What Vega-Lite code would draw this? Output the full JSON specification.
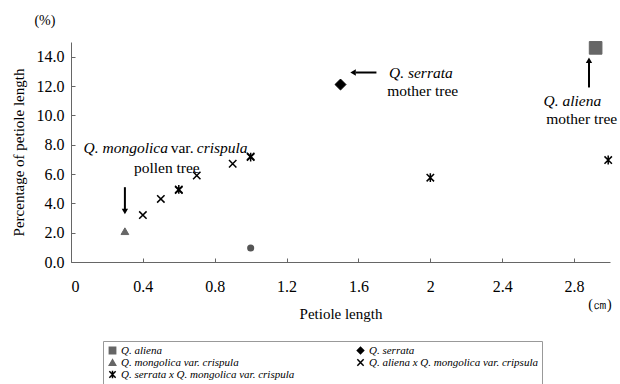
{
  "$schema": "https://vega.github.io/schema/vega-lite/v6.json",
  "width": 539,
  "height": 220,
  "autosize": "none",
  "padding": {"left": 71, "top": 42, "right": 10, "bottom": 122},
  "background": "white",
  "config": {
    "view": {"stroke": null},
    "font": "Times New Roman, Liberation Serif, DejaVu Serif, serif",
    "axis": {
      "grid": false,
      "domainColor": "#666666",
      "tickColor": "#666666",
      "labelColor": "#000000",
      "titleColor": "#000000",
      "labelFont": "Times New Roman, Liberation Serif, DejaVu Serif, serif",
      "titleFont": "Times New Roman, Liberation Serif, DejaVu Serif, serif",
      "labelFontSize": 16,
      "titleFontSize": 15,
      "titleFontWeight": "normal"
    }
  },
  "datasets": {
    "points": [
      {"series": "Q. aliena", "length": 2.92, "pct": 14.6},
      {"series": "Q. serrata", "length": 1.5, "pct": 12.1},
      {"series": "Q. mongolica var. crispula", "length": 0.3, "pct": 2.1},
      {"series": "Q. aliena x Q. mongolica var. cripsula", "length": 0.4, "pct": 3.2},
      {"series": "Q. aliena x Q. mongolica var. cripsula", "length": 0.5, "pct": 4.3},
      {"series": "Q. aliena x Q. mongolica var. cripsula", "length": 0.6, "pct": 4.9},
      {"series": "Q. aliena x Q. mongolica var. cripsula", "length": 0.7, "pct": 5.9},
      {"series": "Q. aliena x Q. mongolica var. cripsula", "length": 0.9, "pct": 6.7},
      {"series": "Q. aliena x Q. mongolica var. cripsula", "length": 1.0, "pct": 7.2},
      {"series": "Q. serrata x Q. mongolica var. crispula", "length": 0.6, "pct": 4.95},
      {"series": "Q. serrata x Q. mongolica var. crispula", "length": 1.0, "pct": 7.15},
      {"series": "Q. serrata x Q. mongolica var. crispula", "length": 2.0, "pct": 5.75},
      {"series": "Q. serrata x Q. mongolica var. crispula", "length": 2.99, "pct": 6.95}
    ],
    "other": [{"length": 1.0, "pct": 0.95}],
    "italicText": [
      {"length": 0.07, "pct": 7.75, "text": "Q. mongolica"},
      {"length": 0.7, "pct": 7.75, "text": "crispula"},
      {"length": 1.77, "pct": 12.92, "text": "Q. serrata"},
      {"length": 2.63, "pct": 10.95, "text": "Q. aliena"}
    ],
    "plainText": [
      {"length": 0.555, "pct": 7.75, "text": "var."},
      {"length": 0.35, "pct": 6.39, "text": "pollen tree"},
      {"length": 1.76, "pct": 11.69, "text": "mother tree"},
      {"length": 2.645, "pct": 9.72, "text": "mother tree"}
    ],
    "units": [
      {"length": -0.145, "pct": 16.45, "text": "(%)"},
      {"length": 2.944, "pct": -2.92, "text": "(㎝)"}
    ],
    "arrows": [
      {"dir": "down", "length": 0.3, "pct": 5.1, "length2": 0.3, "pct2": 3.6},
      {"dir": "left", "length": 1.70, "pct": 12.92, "length2": 1.585, "pct2": 12.92},
      {"dir": "up", "length": 2.883, "pct": 11.9, "length2": 2.883, "pct2": 13.6}
    ],
    "heads": [
      {"dir": "down", "length": 0.3, "pct": 3.45},
      {"dir": "left", "length": 1.57, "pct": 12.92},
      {"dir": "up", "length": 2.883, "pct": 13.75}
    ]
  },
  "encoding": {
    "x": {
      "field": "length", "type": "quantitative",
      "scale": {"domain": [0, 3], "nice": false, "zero": false},
      "axis": {
        "title": "Petiole length",
        "values": [0, 0.4, 0.8, 1.2, 1.6, 2, 2.4, 2.8],
        "format": "~g",
        "tickSize": -4,
        "labelPadding": 20,
        "titlePadding": 12
      }
    },
    "y": {
      "field": "pct", "type": "quantitative",
      "scale": {"domain": [0, 15], "nice": false, "zero": false},
      "axis": {
        "title": "Percentage of petiole length",
        "values": [0, 2, 4, 6, 8, 10, 12, 14],
        "format": ".1f",
        "tickSize": -4,
        "labelPadding": 11,
        "titlePadding": 10
      }
    }
  },
  "layer": [
    {
      "data": {"name": "points"},
      "encoding": {
        "shape": {
          "field": "series", "type": "nominal",
          "scale": {
            "domain": ["Q. aliena", "Q. serrata", "Q. mongolica var. crispula", "Q. aliena x Q. mongolica var. cripsula", "Q. serrata x Q. mongolica var. crispula"],
            "range": ["square", "diamond", "triangle-up", "M-1,-1L1,1M1,-1L-1,1", "M-1,-1L1,1M1,-1L-1,1M0,-1.2L0,1.2"]
          },
          "legend": {
            "title": null,
            "orient": "none",
            "legendX": 32,
            "legendY": 299,
            "columns": 2,
            "direction": "horizontal",
            "labelFont": "Times New Roman, Liberation Serif, DejaVu Serif, serif",
            "labelFontStyle": "italic",
            "labelFontSize": 11,
            "labelColor": "#000000",
            "labelLimit": 400,
            "symbolSize": 40,
            "symbolStrokeWidth": 1.5,
            "clipHeight": 11,
            "rowPadding": 0,
            "columnPadding": 60,
            "labelOffset": 3,
            "padding": 4,
            "strokeColor": "#999999",
            "fillColor": "white"
          }
        },
        "fill": {
          "field": "series", "type": "nominal",
          "scale": {
            "domain": ["Q. aliena", "Q. serrata", "Q. mongolica var. crispula", "Q. aliena x Q. mongolica var. cripsula", "Q. serrata x Q. mongolica var. crispula"],
            "range": ["#666666", "#000000", "#666666", "transparent", "transparent"]
          }
        },
        "stroke": {
          "field": "series", "type": "nominal",
          "scale": {
            "domain": ["Q. aliena", "Q. serrata", "Q. mongolica var. crispula", "Q. aliena x Q. mongolica var. cripsula", "Q. serrata x Q. mongolica var. crispula"],
            "range": ["#666666", "#000000", "#666666", "#000000", "#000000"]
          }
        }
      },
      "layer": [
        {"transform": [{"filter": "datum.series === 'Q. aliena'"}], "mark": {"type": "point", "filled": true, "size": 160, "strokeWidth": 1, "opacity": 1}},
        {"transform": [{"filter": "datum.series === 'Q. serrata'"}], "mark": {"type": "point", "filled": true, "size": 120, "strokeWidth": 1, "opacity": 1}},
        {"transform": [{"filter": "datum.series === 'Q. mongolica var. crispula'"}], "mark": {"type": "point", "filled": true, "size": 60, "strokeWidth": 1, "opacity": 1}},
        {"transform": [{"filter": "indexof(datum.series, ' x ') >= 0"}], "mark": {"type": "point", "size": 55, "strokeWidth": 1.5, "opacity": 1}}
      ]
    },
    {
      "data": {"name": "other"},
      "mark": {"type": "point", "shape": "circle", "filled": true, "color": "#555555", "size": 50, "opacity": 1}
    },
    {
      "data": {"name": "arrows"},
      "mark": {"type": "rule", "color": "#000000", "strokeWidth": 2},
      "encoding": {"x2": {"field": "length2"}, "y2": {"field": "pct2"}}
    },
    {
      "data": {"name": "heads"},
      "transform": [{"filter": "datum.dir === 'down'"}],
      "mark": {"type": "point", "shape": "triangle-down", "filled": true, "color": "#000000", "size": 40, "opacity": 1}
    },
    {
      "data": {"name": "heads"},
      "transform": [{"filter": "datum.dir === 'left'"}],
      "mark": {"type": "point", "shape": "triangle-left", "filled": true, "color": "#000000", "size": 40, "opacity": 1}
    },
    {
      "data": {"name": "heads"},
      "transform": [{"filter": "datum.dir === 'up'"}],
      "mark": {"type": "point", "shape": "triangle-up", "filled": true, "color": "#000000", "size": 40, "opacity": 1}
    },
    {
      "data": {"name": "italicText"},
      "mark": {"type": "text", "align": "left", "baseline": "middle", "font": "Times New Roman, Liberation Serif, DejaVu Serif, serif", "fontStyle": "italic", "fontSize": 15.5, "color": "#000000"},
      "encoding": {"text": {"field": "text"}}
    },
    {
      "data": {"name": "plainText"},
      "mark": {"type": "text", "align": "left", "baseline": "middle", "font": "Times New Roman, Liberation Serif, DejaVu Serif, serif", "fontSize": 15.5, "color": "#000000"},
      "encoding": {"text": {"field": "text"}}
    },
    {
      "data": {"name": "units"},
      "mark": {"type": "text", "align": "center", "baseline": "middle", "font": "Times New Roman, Liberation Serif, DejaVu Serif, serif", "fontSize": 14, "color": "#000000"},
      "encoding": {"text": {"field": "text"}}
    }
  ]
}
